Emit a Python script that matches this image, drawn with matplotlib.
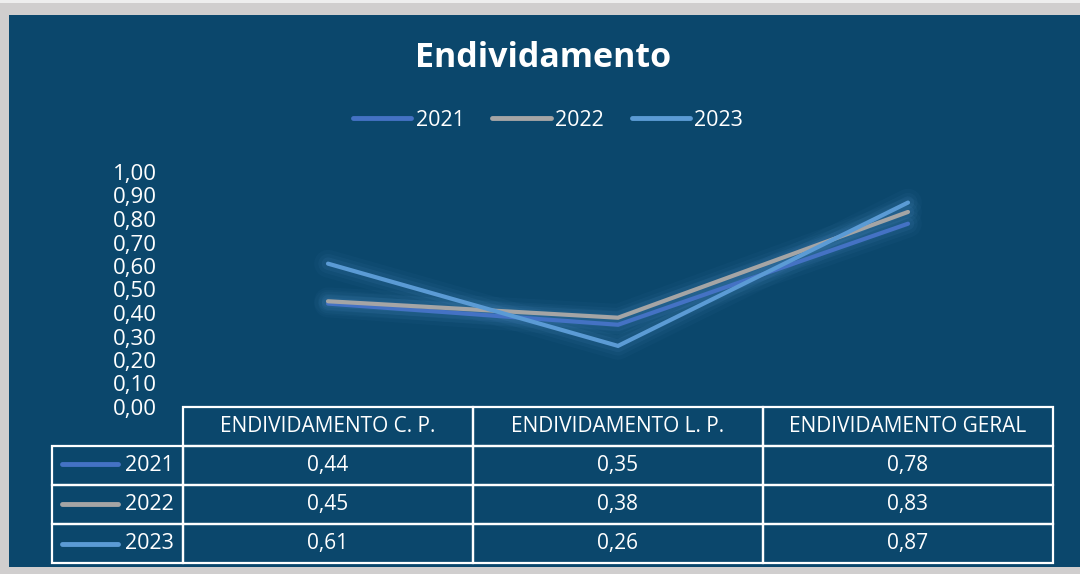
import numpy as np
import matplotlib.pyplot as plt
from matplotlib.patches import Rectangle
from matplotlib.lines import Line2D
from matplotlib.ticker import FuncFormatter

plt.rcParams['font.family'] = ['Open Sans', 'DejaVu Sans']

# data
categorias = ['ENDIVIDAMENTO C. P.', 'ENDIVIDAMENTO L. P.', 'ENDIVIDAMENTO GERAL']
anos = ['2021', '2022', '2023']
v2021 = [0.44, 0.35, 0.78]
v2022 = [0.45, 0.38, 0.83]
v2023 = [0.61, 0.26, 0.87]
cores = ['#4472c4', '#a5a5a5', '#5b9bd5']

fundo = '#0b476c'
W, H = 1080, 574

fig = plt.figure(figsize=(W / 100, H / 100), dpi=100)
fig.patch.set_facecolor('#d0cece')
# blue panel + thin light strip on top (behind the axes)
fig.patches.append(Rectangle((9 / W, 7 / H), 1, (559 - 7) / H, transform=fig.transFigure,
                             facecolor=fundo, edgecolor='none', zorder=-10))
fig.patches.append(Rectangle((0, 1 - 3 / H), 1, 3 / H, transform=fig.transFigure,
                             facecolor='#eeeeee', edgecolor='none', zorder=-10))

# plot area: x 183..1053, y 172..407 (pixels from top)
ax = fig.add_axes([183 / W, (H - 407) / H, 870 / W, 235 / H])
ax.set_facecolor('none')
x = np.arange(len(categorias))
series = [v2021, v2022, v2023]

for vals, c, ano in zip(series, cores, anos):
    # soft glow under each line
    for lw, a in [(20, 0.04), (14, 0.06), (9, 0.09)]:
        ax.plot(x, vals, color='#5b9bd5', lw=lw, alpha=a, solid_capstyle='round',
                solid_joinstyle='round', zorder=1)
    ax.plot(x, vals, color=c, lw=3, solid_capstyle='round', solid_joinstyle='miter',
            label=ano, zorder=3)

ax.set_xlim(-0.5, 2.5)
ax.set_ylim(0, 1)
ax.set_yticks(np.arange(0, 1.01, 0.1))
ax.yaxis.set_major_formatter(FuncFormatter(lambda v, p: f'{v:.2f}'.replace('.', ',')))
ax.tick_params(axis='y', length=0, pad=19, colors='white', labelsize=16)
ax.set_xticks([])
for s in ax.spines.values():
    s.set_visible(False)

# title and legend
fig.text(543 / W, 1 - 58 / H, 'Endividamento', color='white', fontsize=24.5,
         fontweight='bold', ha='center', va='center')
handles = [Line2D([], [], color=c, lw=3.5, solid_capstyle='round') for c in cores]
leg = fig.legend(handles, anos, loc='center', bbox_to_anchor=(548 / W, 1 - 120 / H), ncol=3,
                 frameon=False, fontsize=15.5, handlelength=2.7, handletextpad=0.2,
                 columnspacing=1.3)
for t in leg.get_texts():
    t.set_color('white')

# data table under the plot
cell_text = [[a] + [f'{v:.2f}'.replace('.', ',') for v in vals] for a, vals in zip(anos, series)]
tab = ax.table(cellText=cell_text, colLabels=[''] + categorias, cellLoc='center',
               colWidths=[131, 290, 290, 290],
               bbox=[(52 - 183) / 870, -(563 - 407) / 235, (1053 - 52) / 870, (563 - 407) / 235])
tab.auto_set_font_size(False)
tab.set_fontsize(15)
for (r, c), cell in tab.get_celld().items():
    cell.set_facecolor('none')
    cell.set_edgecolor('white')
    cell.set_linewidth(1.6)
    cell.get_text().set_color('white')
    if r == 0 and c == 0:
        cell.visible_edges = 'open'
    if c == 0 and r > 0:
        cell.get_text().set_ha('right')
        cell.get_text().set_fontsize(15.5)
        cell._loc = 'right'
        cell.PAD = 0.07

# legend keys inside the row header cells
for i, c in enumerate(cores):
    yc = 1 - (465 + 40 * i - 1) / H
    fig.add_artist(Line2D([62 / W, 118 / W], [yc, yc], color=c, lw=3.5,
                          solid_capstyle='round', transform=fig.transFigure))

fig.savefig('out.png', dpi=100, facecolor=fig.get_facecolor())
